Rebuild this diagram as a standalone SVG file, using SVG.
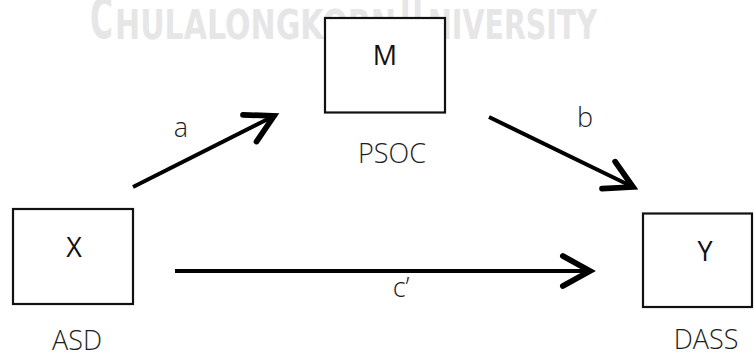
<svg xmlns="http://www.w3.org/2000/svg" width="754" height="354" viewBox="0 0 754 354">
  <style>
    .wm { font-family: "Liberation Sans Narrow", "DejaVu Sans Condensed", "Liberation Sans", sans-serif; font-weight: bold; fill: #e6e6e6; }
    .box { fill: #ffffff; stroke: #111111; stroke-width: 2.2; }
    .lbl { font-family: "Open Sans", "Noto Sans", "Liberation Sans", sans-serif; font-weight: 300; font-size: 27px; fill: #1e1e1e; text-anchor: middle; }
    .var { font-family: "Open Sans", "Noto Sans", "Liberation Sans", sans-serif; font-weight: 400; font-size: 27px; fill: #111111; text-anchor: middle; }
    .edge { fill: none; stroke: #000000; stroke-width: 4; stroke-linecap: butt; }
  </style>
  <defs>
    <marker id="chevron" markerUnits="userSpaceOnUse" markerWidth="40" markerHeight="40" viewBox="-24 -14 28 28" refX="0" refY="0" orient="auto" overflow="visible">
      <path d="M-19,-10.5 L0,0 L-19,10.5" fill="none" stroke="#000000" stroke-width="4" stroke-linecap="round" stroke-linejoin="miter"/>
    </marker>
  </defs>

  <!-- header lettering behind the diagram -->
  <g id="header">
    <text class="wm" x="90" y="39" font-size="57" textLength="23" lengthAdjust="spacingAndGlyphs">C</text>
    <text class="wm" x="115" y="38.5" font-size="40" textLength="281" lengthAdjust="spacingAndGlyphs">HULALONGKORN</text>
    <text class="wm" x="400" y="39" font-size="57" textLength="23" lengthAdjust="spacingAndGlyphs">U</text>
    <text class="wm" x="428" y="38.5" font-size="40" textLength="169" lengthAdjust="spacingAndGlyphs">NIVERSITY</text>
  </g>

  <g id="connectors">
    <path id="edge-a" class="edge" d="M133,187 L274,116" marker-end="url(#chevron)"/>
    <path id="edge-b" class="edge" d="M489,117 L633,187" marker-end="url(#chevron)"/>
    <path id="edge-c" class="edge" d="M175,271 L590,271" marker-end="url(#chevron)"/>
    <text class="lbl" x="181" y="137">a</text>
    <text class="lbl" x="585" y="127">b</text>
    <text class="lbl" x="401" y="297">c’</text>
  </g>

  <g id="node-m">
    <rect class="box" x="325" y="18" width="120" height="94.5"/>
    <text class="var" x="385" y="65">M</text>
    <text class="lbl" x="392" y="163">PSOC</text>
  </g>

  <g id="node-x">
    <rect class="box" x="13" y="209" width="120" height="95"/>
    <text class="var" x="74" y="257">X</text>
    <text class="lbl" x="77" y="350">ASD</text>
  </g>

  <g id="node-y">
    <rect class="box" x="643" y="213.5" width="109" height="93.5"/>
    <text class="var" x="705" y="261">Y</text>
    <text class="lbl" x="706" y="349">DASS</text>
  </g>
</svg>
